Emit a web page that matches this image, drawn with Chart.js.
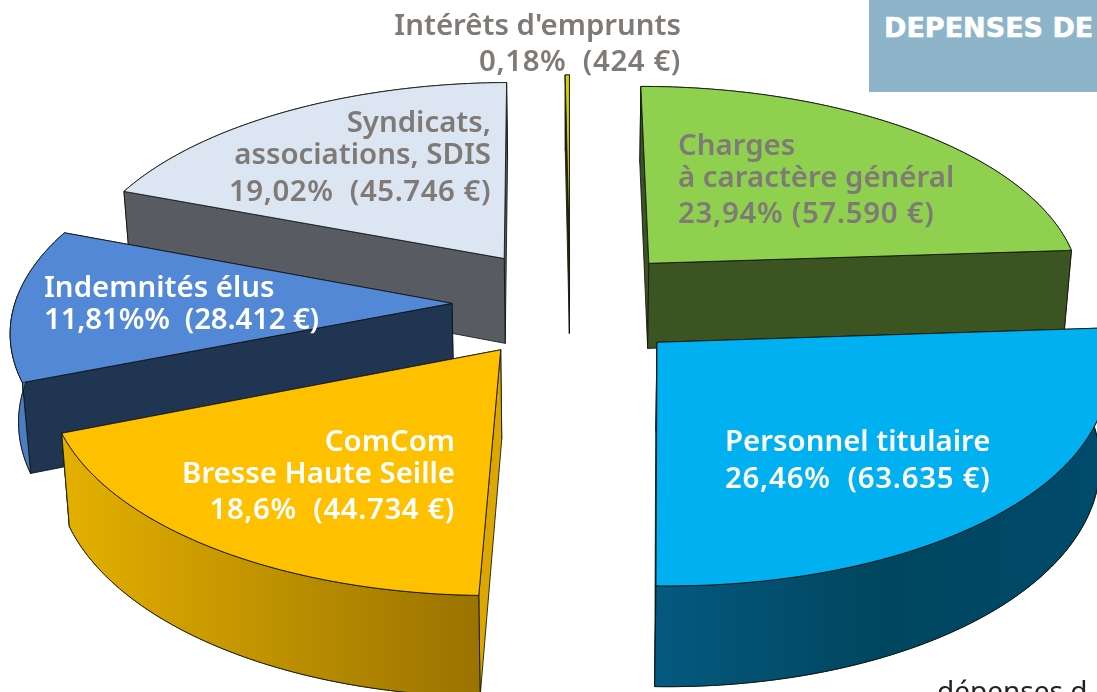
<!DOCTYPE html>
<html lang="fr">
<head>
    <meta charset="UTF-8">
    <title>Dépenses de fonctionnement</title>
    <script src="https://cdn.jsdelivr.net/npm/chart.js"></script>
    <style>
        body { margin: 0; background: #fff; overflow: hidden; }
        #wrap { position: relative; width: 1097px; height: 692px; overflow: hidden; font-family: "Noto Sans", sans-serif; }
        canvas { position: absolute; left: 0; top: 0; }
        .lbl { position: absolute; white-space: pre; font-size: 29.4px; font-weight: 600; line-height: 36px; transform: translateY(-50%); }
        #titleBox { position: absolute; left: 869px; top: 0; width: 228px; height: 92px; background: #8DB4C8; }
        #title { position: absolute; left: 884px; top: 9px; color: #fff; font: bold 27px/38px "DejaVu Sans", sans-serif; -webkit-text-stroke: 0.6px #fff; white-space: pre; }
        #foot { position: absolute; left: 937px; top: 672px; color: #222; font-size: 28px; line-height: 36px; white-space: pre; }
    </style>
</head>
<body>
<div id="wrap">
    <canvas id="pie" width="1097" height="692"></canvas>
    <div id="titleBox"></div>
    <div id="title">DEPENSES DE</div>
    <div id="foot">dépenses d</div>
</div>
<script>
    const categories = ['Charges à caractère général', 'Personnel titulaire', 'ComCom Bresse Haute Seille', 'Indemnités élus', 'Syndicats, associations, SDIS', "Intérêts d'emprunts"];
    const amounts = [57590, 63635, 44734, 28412, 45746, 424];
    const labelLines = [
        ['Charges', 'à caractère général', '23,94% (57.590 €)'],
        ['Personnel titulaire', '26,46%  (63.635 €)'],
        ['ComCom', 'Bresse Haute Seille', '18,6%  (44.734 €)'],
        ['Indemnités élus', '11,81%%  (28.412 €)'],
        ['Syndicats,', 'associations, SDIS', '19,02%  (45.746 €)'],
        ["Intérêts d'emprunts", '0,18%  (424 €)']
    ];

    const topColors = ['#8FD14F', '#00B0F0', '#FFC000', '#5288D6', '#DCE6F2', '#D6D200'];
    const cutColors = ['#3C5322', '#045A82', '#DCA700', '#1F3552', '#585B62', '#2e2e00'];
    const wallColors = [['#3C5322', '#3C5322'], ['#05597F', '#00465F', '#004A6C'], ['#E4B000', '#9A7300'], ['#4A7EC4', '#4A7EC4'], ['#585B62', '#585B62'], ['#2e2e00', '#2e2e00']];
    const labelColors = ['#7F7A76', '#fff', '#fff', '#fff', '#7F7A76', '#7F7A76'];
    // where each label sits: anchor x, side, line centres, extra spacing on the amount line
    const labelPlaces = [
        { x: 678, side: 'left', ys: [144, 176, 212], amountGap: 0.7 },
        { x: 725, side: 'left', ys: [440, 477], amountGap: 0.75 },
        { x: 455, side: 'right', ys: [440, 472, 508], amountGap: 0.6 },
        { x: 44, side: 'left', ys: [286, 318], amountGap: -0.15 },
        { x: 491, side: 'right', ys: [121, 153, 190], amountGap: 0.55 },
        { x: 681, side: 'right', ys: [24, 60], amountGap: 0.6 }
    ];

    // view of the tilted pie
    const RADIUS = 437;
    const view = { cx: 570, cy: 303, squash: 0.471, persp: 0.115, depth: 87, lean: 0.015 };

    function project(wx, wy, z) {
        const w = 1 / (1 - view.persp * wy / RADIUS);
        const lean = 1 - view.lean * z / view.depth;
        return [view.cx + wx * w * lean, view.cy + view.squash * wy * w + z * w];
    }

    function tracePoly(ctx, pts) {
        ctx.beginPath();
        pts.forEach((p, i) => i ? ctx.lineTo(p[0], p[1]) : ctx.moveTo(p[0], p[1]));
        ctx.closePath();
    }

    function paint(ctx, pts, fill) {
        tracePoly(ctx, pts);
        ctx.fillStyle = fill;
        ctx.fill();
        ctx.stroke();
    }

    const pie3d = {
        id: 'pie3d',
        beforeDatasetDraw(chart, args) {
            const ctx = chart.ctx;
            const meta = args.meta;
            const slices = meta.data.map((arc, i) => {
                const mid = (arc.startAngle + arc.endAngle) / 2;
                const off = arc.options.offset / 4;
                return { arc, i, ox: Math.cos(mid) * off, oy: Math.sin(mid) * off };
            });
            slices.sort((a, b) => a.oy - b.oy);

            ctx.save();
            ctx.lineWidth = 1;
            ctx.strokeStyle = 'rgba(15,20,15,0.85)';
            ctx.lineJoin = 'round';
            slices.forEach(s => {
                const { arc, i, ox, oy } = s;
                const r = arc.outerRadius;
                const steps = Math.max(2, Math.ceil((arc.endAngle - arc.startAngle) * 60));
                const rim = [];
                for (let n = 0; n <= steps; n++) {
                    const a = arc.startAngle + (arc.endAngle - arc.startAngle) * n / steps;
                    rim.push([ox + r * Math.cos(a), oy + r * Math.sin(a)]);
                }
                const apexTop = project(ox, oy, 0);
                const apexBot = project(ox, oy, view.depth);
                const top = rim.map(p => project(p[0], p[1], 0));
                const bot = rim.map(p => project(p[0], p[1], view.depth));

                const xs = top.map(p => p[0]);
                const grad = ctx.createLinearGradient(Math.min(...xs), 0, Math.max(...xs), 0);
                wallColors[i].forEach((c, n) => grad.addColorStop(n / (wallColors[i].length - 1), c));

                paint(ctx, top.concat(bot.slice().reverse()), grad);
                // the cut face nearer the viewer goes last
                const ends = rim[0][1] < rim[steps][1] ? [0, steps] : [steps, 0];
                ends.forEach(n => paint(ctx, [apexTop, top[n], bot[n], apexBot], cutColors[i]));
                // front part of the wall goes back over the cut faces
                const front = rim.map((p, n) => n).filter(n => {
                    const a = arc.startAngle + (arc.endAngle - arc.startAngle) * n / steps;
                    return Math.sin(a) > -0.05;
                });
                if (front.length > 1) {
                    paint(ctx, front.map(n => top[n]).concat(front.map(n => bot[n]).reverse()), grad);
                }
                paint(ctx, [apexTop].concat(top), topColors[i]);
            });
            ctx.restore();
            return false;
        }
    };

    new Chart(document.getElementById('pie'), {
        type: 'pie',
        data: {
            labels: categories,
            datasets: [{ data: amounts, backgroundColor: topColors, offset: 472, borderWidth: 0 }]
        },
        options: {
            responsive: false,
            animation: false,
            radius: RADIUS,
            rotation: 0,
            plugins: { legend: { display: false }, tooltip: { enabled: false } }
        },
        plugins: [pie3d]
    });

    const wrap = document.getElementById('wrap');
    labelLines.forEach((lines, i) => {
        const place = labelPlaces[i];
        lines.forEach((text, n) => {
            const el = document.createElement('div');
            el.className = 'lbl';
            el.textContent = text;
            el.style.color = labelColors[i];
            el.style.top = place.ys[n] + 'px';
            if (text.includes('€')) el.style.letterSpacing = place.amountGap + 'px';
            if (place.side === 'left') el.style.left = place.x + 'px';
            else el.style.right = (1097 - place.x) + 'px';
            wrap.appendChild(el);
        });
    });
</script>
</body>
</html>
